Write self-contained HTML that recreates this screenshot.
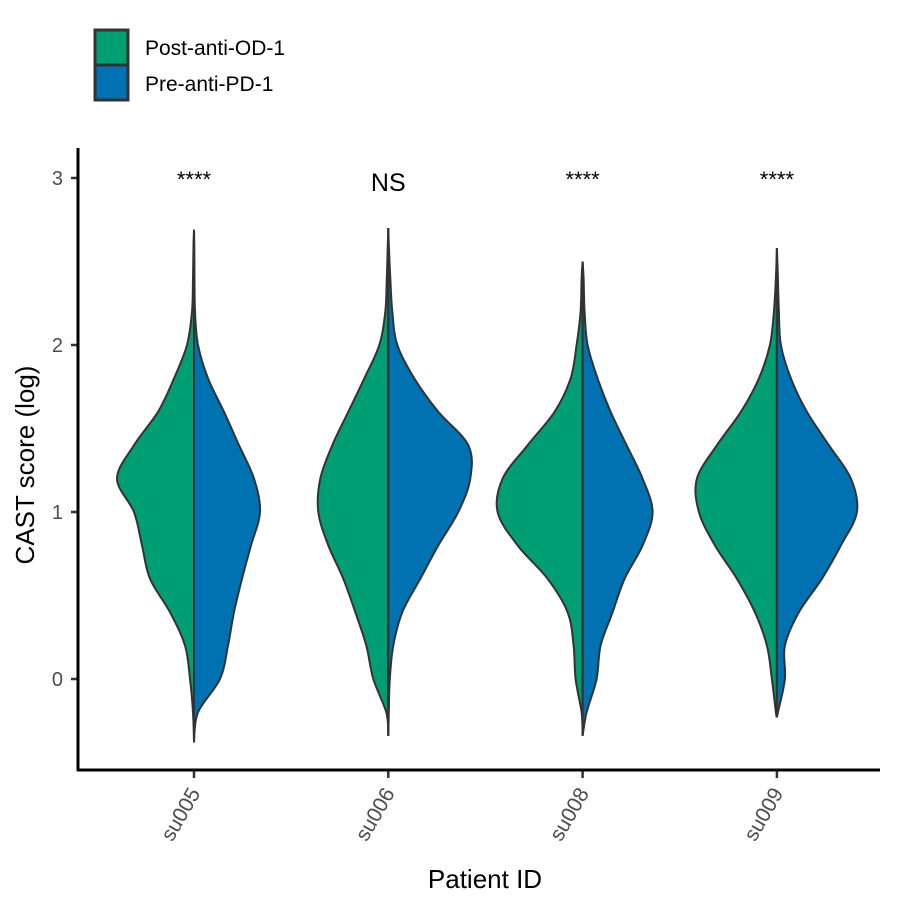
<!DOCTYPE html>
<html><head><meta charset="utf-8"><style>
body{margin:0;background:#fff}
svg{display:block;font-family:"Liberation Sans",Arial,sans-serif}
</style></head><body>
<svg id="chart" width="905" height="909">
<g>
 <rect x="95" y="30" width="33" height="35" fill="#009E73" stroke="#333" stroke-width="3"/>
 <rect x="95" y="65" width="33" height="35" fill="#0072B2" stroke="#333" stroke-width="3"/>
 <text x="145" y="55" font-size="21" fill="#000">Post-anti-OD-1</text>
 <text x="145" y="91" font-size="21" fill="#000">Pre-anti-PD-1</text>
</g>
<g id="plot"></g>
<line x1="78" y1="148" x2="78" y2="771" stroke="#000" stroke-width="3"/>
<line x1="77" y1="770" x2="880" y2="770" stroke="#000" stroke-width="3"/>
<text transform="translate(34,465) rotate(-90)" text-anchor="middle" font-size="26">CAST score (log)</text>
<text x="485" y="888" text-anchor="middle" font-size="26">Patient ID</text>
</svg>
<script>
const categories = ["su005","su006","su008","su009"];
const signif = ["****","NS","****","****"];
const yTicks = [0,1,2,3];
const gridY = [-0.4,-0.2,0,0.2,0.4,0.6,0.8,1.0,1.2,1.4,1.6,1.8,2.0,2.2,2.4,2.6,2.8];
const postDensity = [
 [0,1,4,9,24,44,52,60,77,60,36,20,7,2,1,0.5,0],
 [0,2,15,22,33,45,60,70,68,56,40,24,9,3,1.5,0.5,0],
 [0,1,7,9,15,35,65,85,80,55,28,12,6,2,1,0.3,0],
 [0,1,5,10,22,40,62,78,80,60,36,18,7,3,1,0.3,0]
];
const preDensity = [
 [0,4,26,34,40,48,57,66,60,45,30,14,4,1,0.5,0.3,0],
 [0,0.5,1.5,5,14,32,50,70,82,80,50,26,9,4,2,0.5,0],
 [0,4,14,18,30,42,60,70,60,44,28,15,5,2,1,0.3,0],
 [0,1,8,8,22,45,64,80,74,52,30,14,4,2,1,0.3,0]
];
const yMin = [-0.38,-0.34,-0.34,-0.23];
const yMax = [2.69,2.70,2.50,2.58];

const NS="http://www.w3.org/2000/svg";
const plot=document.getElementById('plot');
const yS=v=>679-v*167;
const xS=i=>194+i*194.3;
const wS=d=>d;

function smooth(pts){
 let d="M"+pts[0][0]+","+pts[0][1];
 for(let i=0;i<pts.length-1;i++){
  const p0=pts[Math.max(0,i-1)],p1=pts[i],p2=pts[i+1],p3=pts[Math.min(pts.length-1,i+2)];
  const c1=[p1[0]+(p2[0]-p0[0])/6,p1[1]+(p2[1]-p0[1])/6];
  const c2=[p2[0]-(p3[0]-p1[0])/6,p2[1]-(p3[1]-p1[1])/6];
  d+="C"+c1[0].toFixed(2)+","+c1[1].toFixed(2)+" "+c2[0].toFixed(2)+","+c2[1].toFixed(2)+" "+p2[0].toFixed(2)+","+p2[1].toFixed(2);
 }
 return d;
}
function half(i,dens,side){
 const cx=xS(i);
 const pts=[[cx,yS(yMin[i])]];
 gridY.forEach((g,k)=>{ if(g>yMin[i]&&g<yMax[i]) pts.push([cx+side*wS(dens[k]),yS(g)]); });
 pts.push([cx,yS(yMax[i])]);
 return smooth(pts)+"Z";
}
yTicks.forEach(t=>{
 const l=document.createElementNS(NS,'line');
 l.setAttribute('x1',71);l.setAttribute('x2',78);l.setAttribute('y1',yS(t));l.setAttribute('y2',yS(t));
 l.setAttribute('stroke','#333');l.setAttribute('stroke-width','2.5');
 
 
 plot.appendChild(l);
 const tx=document.createElementNS(NS,'text');
 tx.setAttribute('x',63);tx.setAttribute('y',yS(t)+7);tx.setAttribute('text-anchor','end');
 tx.setAttribute('font-size','20');tx.setAttribute('fill','#4d4d4d');tx.textContent=t;
 
 
 plot.appendChild(tx);
});
categories.forEach((c,i)=>{
 const cx=xS(i);
 const g=document.createElementNS(NS,'path');
 g.setAttribute('d',half(i,postDensity[i],-1));
 g.setAttribute('fill','#009E73');g.setAttribute('stroke','#333');g.setAttribute('stroke-width','2');
 
 
 plot.appendChild(g);
 const b=document.createElementNS(NS,'path');
 b.setAttribute('d',half(i,preDensity[i],1));
 b.setAttribute('fill','#0072B2');b.setAttribute('stroke','#333');b.setAttribute('stroke-width','2');
 
 
 plot.appendChild(b);
 const l=document.createElementNS(NS,'line');
 l.setAttribute('x1',cx);l.setAttribute('x2',cx);l.setAttribute('y1',yS(yMin[i]));l.setAttribute('y2',yS(yMax[i]));
 l.setAttribute('stroke','#333');l.setAttribute('stroke-width','2');
 
 
 plot.appendChild(l);
 const tk=document.createElementNS(NS,'line');
 tk.setAttribute('x1',cx);tk.setAttribute('x2',cx);tk.setAttribute('y1',770);tk.setAttribute('y2',778);
 tk.setAttribute('stroke','#333');tk.setAttribute('stroke-width','2.5');
 
 
 plot.appendChild(tk);
 const lb=document.createElementNS(NS,'text');
 lb.setAttribute('transform','translate('+(cx+7)+',793) rotate(-60)');
 lb.setAttribute('text-anchor','end');lb.setAttribute('font-size','21');lb.setAttribute('fill','#4d4d4d');
 lb.textContent=c;
 
 
 plot.appendChild(lb);
 const s=document.createElementNS(NS,'text');
 const ns=signif[i]==="NS";
 s.setAttribute('x',cx);s.setAttribute('y',ns?191:187);s.setAttribute('text-anchor','middle');
 s.setAttribute('font-size',ns?'25':'22');
 s.textContent=signif[i];
 
 
 plot.appendChild(s);
});
</script>
</body></html>
